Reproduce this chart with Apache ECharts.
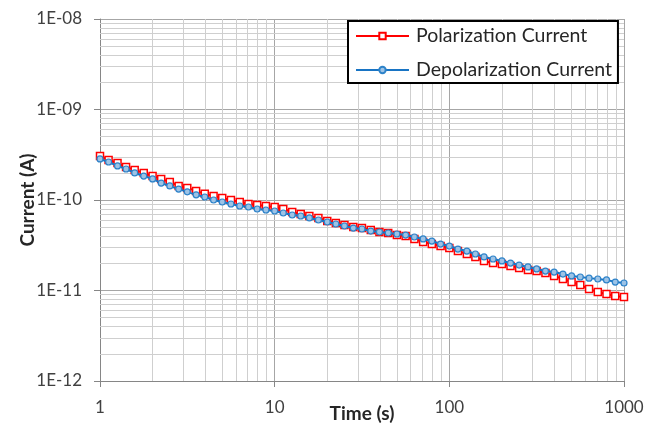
<!DOCTYPE html>
<html>
<head>
<meta charset="utf-8">
<script src="https://cdn.jsdelivr.net/npm/echarts@6/dist/echarts.min.js"></script>
<style>
html,body{margin:0;padding:0;background:#fff;}
#chart{width:658px;height:430px;}
</style>
</head>
<body>
<div id="chart"></div>
<script>
// Time (s)
var timeValues = [1, 1.12, 1.26, 1.41, 1.58, 1.78, 2.00, 2.24, 2.51, 2.82,
  3.16, 3.55, 3.98, 4.47, 5.01, 5.62, 6.31, 7.08, 7.94, 8.91,
  10, 11.2, 12.6, 14.1, 15.8, 17.8, 20.0, 22.4, 25.1, 28.2,
  31.6, 35.5, 39.8, 44.7, 50.1, 56.2, 63.1, 70.8, 79.4, 89.1,
  100, 112, 126, 141, 158, 178, 200, 224, 251, 282,
  316, 355, 398, 447, 501, 562, 631, 708, 794, 891, 1000];

// Polarization current (A)
var polarization = [3.06e-10, 2.77e-10, 2.56e-10, 2.32e-10, 2.15e-10, 1.99e-10, 1.84e-10, 1.71e-10, 1.58e-10, 1.43e-10,
  1.36e-10, 1.26e-10, 1.17e-10, 1.11e-10, 1.05e-10, 1.00e-10, 9.50e-11, 9.03e-11, 8.81e-11, 8.58e-11,
  8.37e-11, 7.95e-11, 7.37e-11, 7.00e-11, 6.66e-11, 6.33e-11, 5.86e-11, 5.57e-11, 5.29e-11, 5.03e-11,
  4.90e-11, 4.66e-11, 4.43e-11, 4.32e-11, 4.10e-11, 4.00e-11, 3.71e-11, 3.44e-11, 3.26e-11, 3.10e-11,
  2.95e-11, 2.73e-11, 2.53e-11, 2.35e-11, 2.12e-11, 2.01e-11, 1.96e-11, 1.87e-11, 1.77e-11, 1.68e-11,
  1.64e-11, 1.56e-11, 1.45e-11, 1.34e-11, 1.24e-11, 1.15e-11, 1.04e-11, 9.63e-12, 9.15e-12, 8.69e-12, 8.48e-12];

// Depolarization current (A)
var depolarization = [2.84e-10, 2.63e-10, 2.38e-10, 2.20e-10, 1.99e-10, 1.84e-10, 1.71e-10, 1.54e-10, 1.43e-10, 1.32e-10,
  1.23e-10, 1.14e-10, 1.08e-10, 1.00e-10, 9.50e-11, 9.03e-11, 8.58e-11, 8.37e-11, 7.95e-11, 7.75e-11,
  7.56e-11, 7.18e-11, 6.83e-11, 6.66e-11, 6.33e-11, 6.01e-11, 5.71e-11, 5.43e-11, 5.16e-11, 4.90e-11,
  4.78e-11, 4.54e-11, 4.43e-11, 4.32e-11, 4.21e-11, 4.10e-11, 3.90e-11, 3.71e-11, 3.52e-11, 3.26e-11,
  3.10e-11, 2.87e-11, 2.73e-11, 2.53e-11, 2.35e-11, 2.23e-11, 2.12e-11, 2.01e-11, 1.91e-11, 1.82e-11,
  1.73e-11, 1.64e-11, 1.60e-11, 1.52e-11, 1.45e-11, 1.41e-11, 1.37e-11, 1.34e-11, 1.31e-11, 1.24e-11, 1.21e-11];

var seriesNames = ['Polarization Current', 'Depolarization Current'];
var xTickLabels = ['1', '10', '100', '1000'];
var yTickLabels = ['1E-12', '1E-11', '1E-10', '1E-09', '1E-08'];
var xRange = [1, 1000];
var yRange = [1e-12, 1e-8];
var minorX = [2, 3, 4, 5, 6, 7, 8, 9, 20, 30, 40, 50, 60, 70, 80, 90, 200, 300, 400, 500, 600, 700, 800, 900];
var minorY = [2e-12, 3e-12, 4e-12, 5e-12, 6e-12, 7e-12, 8e-12, 9e-12,
  2e-11, 3e-11, 4e-11, 5e-11, 6e-11, 7e-11, 8e-11, 9e-11,
  2e-10, 3e-10, 4e-10, 5e-10, 6e-10, 7e-10, 8e-10, 9e-10,
  2e-9, 3e-9, 4e-9, 5e-9, 6e-9, 7e-9, 8e-9, 9e-9];

function pairs(xs, ys) { return xs.map(function (x, i) { return [x, ys[i]]; }); }

var FONT = 'Lato';
var chart = echarts.init(document.getElementById('chart'), null, {renderer: 'canvas'});

var minorData = minorX.map(function (v) { return [{coord: [v, yRange[0]]}, {coord: [v, yRange[1]]}]; })
  .concat(minorY.map(function (v) { return [{coord: [xRange[0], v]}, {coord: [xRange[1], v]}]; }));

chart.setOption({
  animation: false,
  backgroundColor: '#ffffff',
  grid: {left: 100, right: 34, top: 19, bottom: 49, containLabel: false, outerBoundsMode: 'none'},
  legend: {
    orient: 'vertical',
    left: 348, top: 21,
    z: 10,
    data: seriesNames,
    backgroundColor: '#ffffff',
    borderColor: '#000000',
    borderWidth: 2,
    borderRadius: 0,
    padding: [5, 6, 3, 7],
    itemWidth: 53,
    itemHeight: 8,
    itemGap: 14,
    textStyle: {fontFamily: FONT, fontSize: 19.5, color: '#262626', padding: [0, 0, 0, 2]}
  },
  xAxis: {
    type: 'log', logBase: 10, min: xRange[0], max: xRange[1],
    name: 'Time (s)', nameLocation: 'middle', nameGap: 23, nameMoveOverlap: false,
    nameTextStyle: {fontFamily: FONT, fontSize: 19, fontWeight: 'bold', color: '#262626'},
    axisLine: {show: true, lineStyle: {color: '#868686', width: 1}},
    axisTick: {show: true, inside: false, length: 6, lineStyle: {color: '#868686'}},
    axisLabel: {
      fontFamily: FONT, fontSize: 17, color: '#404040', margin: 18,
      formatter: function (v) { var i = Math.round(Math.log10(v)); return xTickLabels[i] || ''; }
    },
    splitLine: {show: true, lineStyle: {color: '#a6a6a6', width: 1}},
    minorTick: {show: false}, minorSplitLine: {show: false}
  },
  yAxis: {
    type: 'log', logBase: 10, min: yRange[0], max: yRange[1],
    name: 'Current (A)', nameLocation: 'middle', nameGap: 63, nameRotate: 90, nameMoveOverlap: false,
    nameTextStyle: {fontFamily: FONT, fontSize: 19, fontWeight: 'bold', color: '#262626'},
    axisLine: {show: true, lineStyle: {color: '#868686', width: 1}},
    axisTick: {show: true, inside: false, length: 6, lineStyle: {color: '#868686'}},
    axisLabel: {
      fontFamily: FONT, fontSize: 17, color: '#404040', margin: 18,
      formatter: function (v) { var i = Math.round(Math.log10(v)) + 12; return yTickLabels[i] || ''; }
    },
    splitLine: {show: true, lineStyle: {color: '#a6a6a6', width: 1}},
    minorTick: {show: false}, minorSplitLine: {show: false}
  },
  series: [
    {
      name: 'minor-grid', type: 'line', data: [], z: 1, silent: true,
      markLine: {
        z: 1,
        silent: true, symbol: ['none', 'none'], animation: false,
        label: {show: false},
        lineStyle: {color: '#cfcfcf', width: 1, type: 'solid'},
        emphasis: {disabled: true},
        data: minorData
      }
    },
    {
      name: seriesNames[0], type: 'line', z: 3,
      data: pairs(timeValues, polarization),
      color: '#ff0000',
      lineStyle: {color: '#ff0000', width: 2},
      symbol: 'rect', symbolSize: 7, showSymbol: true,
      itemStyle: {color: '#ffffff', borderColor: '#ff0000', borderWidth: 1.5}
    },
    {
      name: seriesNames[1], type: 'line', z: 4,
      data: pairs(timeValues, depolarization),
      color: '#0070c0',
      lineStyle: {color: '#1874c4', width: 2},
      symbol: 'circle', symbolSize: 6, showSymbol: true,
      itemStyle: {color: '#9dc3e6', borderColor: '#2e83c9', borderWidth: 1.2}
    }
  ]
});
</script>
</body>
</html>
